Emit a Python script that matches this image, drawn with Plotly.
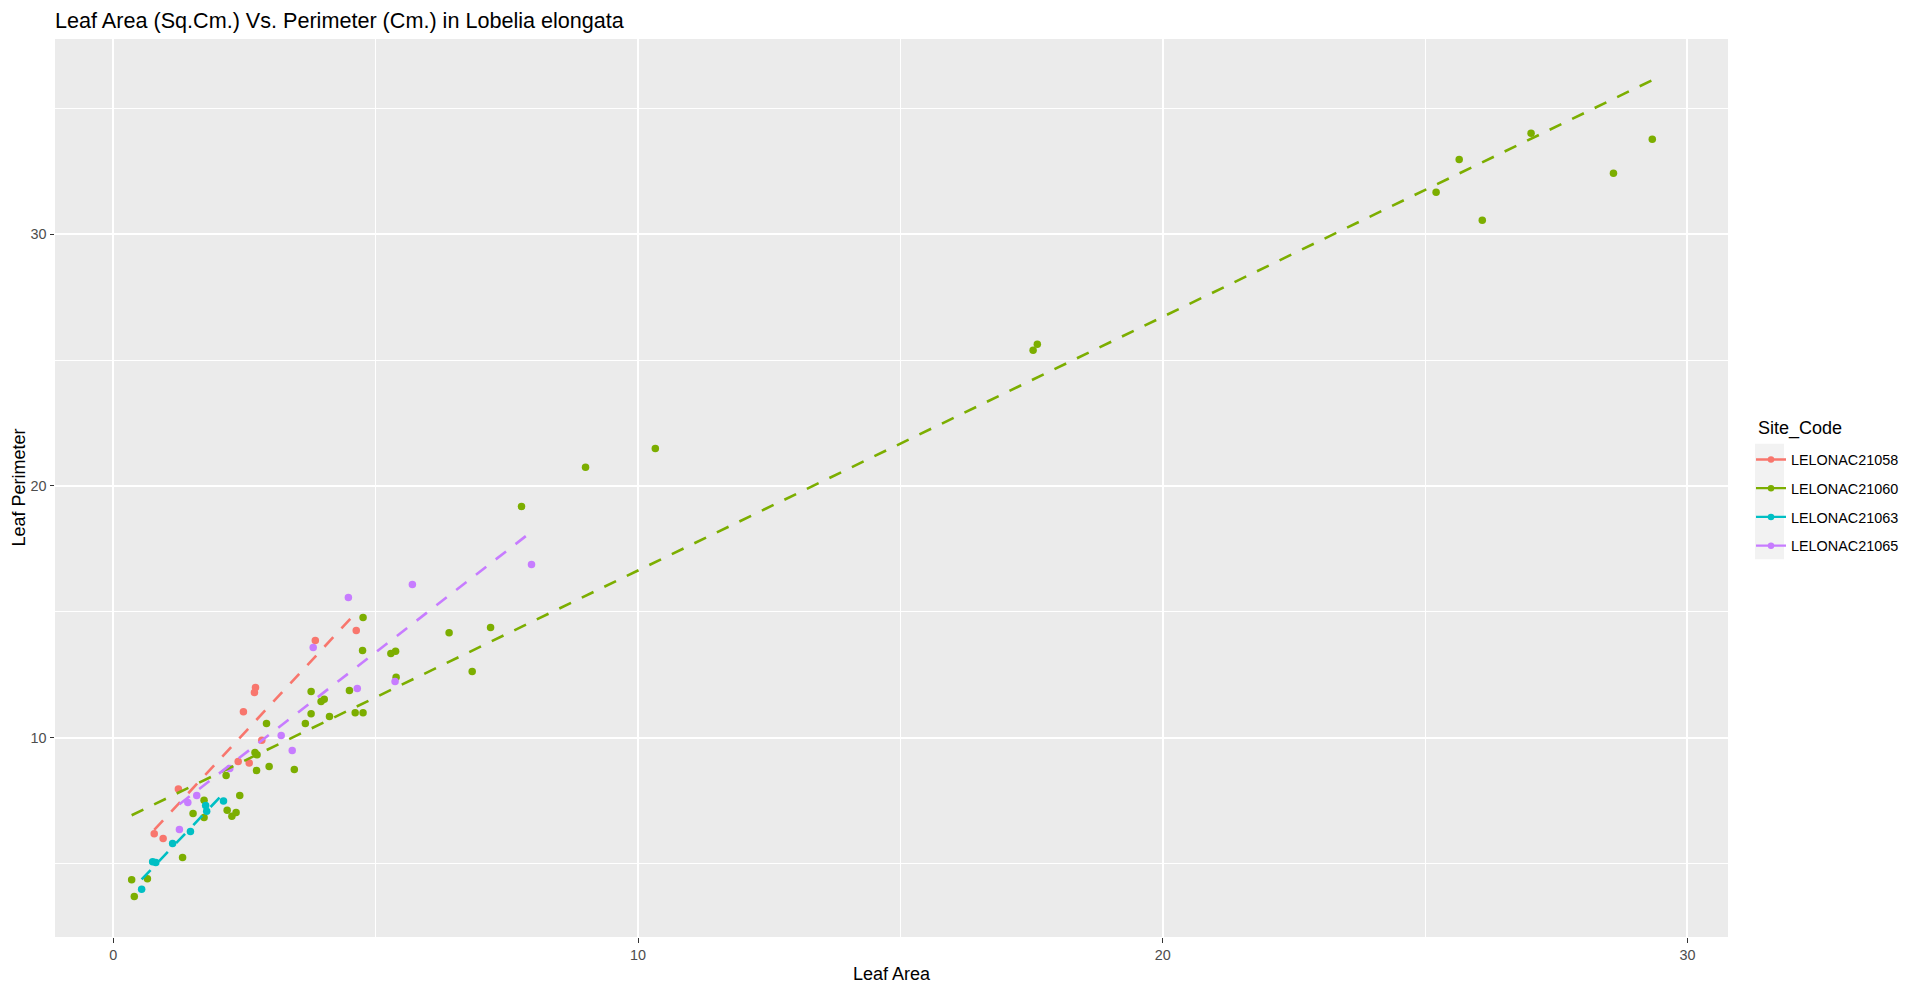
import plotly.graph_objects as go

# ---------------- data ----------------
site_codes = ["LELONAC21058", "LELONAC21060", "LELONAC21063", "LELONAC21065"]
colors = ["#F8766D", "#7CAE00", "#00BFC4", "#C77CFF"]

area_21058 = [0.78, 0.95, 1.24, 2.38, 2.59, 2.83, 2.48, 2.71, 2.69, 3.85, 4.63]
perim_21058 = [6.18, 5.99, 7.95, 9.05, 8.99, 9.89, 11.03, 11.99, 11.79, 13.86, 14.25]

area_21060 = [0.35, 0.40, 0.65, 1.32, 1.52, 1.73, 1.73, 2.17, 2.26, 2.34, 2.41, 2.15,
              2.70, 2.74, 2.73, 2.97, 2.92, 3.45, 3.66, 3.77, 3.77, 3.96, 4.02, 4.12,
              4.50, 4.61, 4.76, 4.75, 4.76, 5.29, 5.38, 5.39, 6.40, 6.84, 7.19, 7.78,
              9.00, 10.33, 17.53, 17.61, 25.21, 25.65, 26.09, 27.02, 28.59, 29.33]
perim_21060 = [4.35, 3.68, 4.39, 5.23, 6.98, 6.82, 7.51, 7.11, 6.87, 7.02, 7.70, 8.49,
               9.41, 9.32, 8.69, 8.85, 10.56, 8.73, 10.56, 10.95, 11.83, 11.43, 11.52, 10.84,
               11.87, 10.99, 10.99, 13.46, 14.77, 13.34, 13.43, 12.40, 14.17, 12.62, 14.37, 19.18,
               20.74, 21.49, 25.39, 25.63, 31.67, 32.98, 30.56, 34.02, 32.43, 33.78]

area_21063 = [0.54, 0.75, 0.81, 1.13, 1.47, 1.76, 1.78, 2.10]
perim_21063 = [3.97, 5.06, 5.03, 5.79, 6.27, 7.30, 7.07, 7.48]

area_21065 = [1.26, 1.42, 1.59, 2.22, 3.20, 3.41, 3.81, 4.48, 4.65, 5.37, 5.70, 7.97]
perim_21065 = [6.34, 7.42, 7.70, 8.77, 10.08, 9.48, 13.58, 15.57, 11.95, 12.23, 16.08, 16.88]

# linear-fit (dashed) lines: end points
fit_area_21058 = [0.78, 4.63]
fit_perim_21058 = [6.33, 14.97]
fit_area_21060 = [0.35, 29.33]
fit_perim_21060 = [6.91, 36.13]
fit_area_21063 = [0.54, 2.10]
fit_perim_21063 = [4.36, 7.78]
fit_area_21065 = [1.26, 7.97]
fit_perim_21065 = [7.35, 18.18]

x_ticks = [0, 10, 20, 30]
y_ticks = [10, 20, 30]

title_text = "Leaf Area (Sq.Cm.) Vs. Perimeter (Cm.) in Lobelia elongata"
x_title = "Leaf Area"
y_title = "Leaf Perimeter"
legend_title = "Site_Code"

points = [(area_21058, perim_21058), (area_21060, perim_21060),
          (area_21063, perim_21063), (area_21065, perim_21065)]
fits = [(fit_area_21058, fit_perim_21058), (fit_area_21060, fit_perim_21060),
        (fit_area_21063, fit_perim_21063), (fit_area_21065, fit_perim_21065)]

FONT = "Liberation Sans, Arial, sans-serif"
W, H = 1920, 992
L, R, T, B = 55, 192, 39, 55.3
PW = W - L - R
PH = H - T - B

fig = go.Figure()

# points layer
for (xs, ys), col, name in zip(points, colors, site_codes):
    fig.add_trace(go.Scatter(x=xs, y=ys, mode="markers", name=name,
                             marker=dict(color=col, size=7.5, line=dict(width=0)),
                             showlegend=False, legendgroup=name, hoverinfo="x+y"))

# smooth (lm) layer
for (xs, ys), col, name in zip(fits, colors, site_codes):
    fig.add_trace(go.Scatter(x=xs, y=ys, mode="lines", name=name,
                             line=dict(color=col, width=2.6, dash="13px,12px"),
                             showlegend=False, legendgroup=name, hoverinfo="skip"))

# legend keys (line + point)
for col, name in zip(colors, site_codes):
    fig.add_trace(go.Scatter(x=[None], y=[None], mode="lines+markers", name=name,
                             line=dict(color=col, width=2.3),
                             marker=dict(color=col, size=6.5),
                             showlegend=True, legendgroup=name))

def px_x(p):
    return (p - L) / PW

def px_y(p):
    return (H - B - p) / PH

fig.update_layout(
    width=W, height=H,
    margin=dict(l=L, r=R, t=T, b=B, pad=0),
    paper_bgcolor="white",
    plot_bgcolor="#EBEBEB",
    font=dict(family=FONT, color="black"),
    title=dict(text=title_text, font=dict(size=21.6, color="black", family=FONT),
               xref="paper", x=0, xanchor="left",
               yref="container", y=1 - 20.5 / H, yanchor="middle"),
    xaxis=dict(range=[-1.111, 30.773], tickvals=x_ticks, ticktext=[str(v) for v in x_ticks],
               showgrid=True, gridcolor="white", gridwidth=1.6,
               minor=dict(tickvals=[5, 15, 25], showgrid=True, gridcolor="white", gridwidth=0.9,
                          ticks=""),
               zeroline=False, showline=False, ticks="outside", ticklen=4.5, tickwidth=1.1,
               tickcolor="#333333", tickfont=dict(size=14.4, color="#4D4D4D", family=FONT)),
    yaxis=dict(range=[2.072, 37.765], tickvals=y_ticks, ticktext=[str(v) for v in y_ticks],
               showgrid=True, gridcolor="white", gridwidth=1.6,
               minor=dict(tickvals=[5, 15, 25, 35], showgrid=True, gridcolor="white", gridwidth=0.9,
                          ticks=""),
               zeroline=False, showline=False, ticks="outside", ticklen=4.5, tickwidth=1.1,
               tickcolor="#333333", tickfont=dict(size=14.4, color="#4D4D4D", family=FONT)),
    legend=dict(font=dict(size=14.4, color="black", family=FONT),
                x=px_x(1751), xanchor="left", y=px_y(443.5), yanchor="top",
                bgcolor="rgba(0,0,0,0)", borderwidth=0, tracegroupgap=7.0),
    shapes=[dict(type="rect", xref="paper", yref="paper", layer="below",
                 x0=px_x(1755), x1=px_x(1784), y0=px_y(559), y1=px_y(443.5),
                 fillcolor="#F2F2F2", line=dict(width=0))],
    annotations=[
        dict(text=legend_title, xref="paper", yref="paper", x=px_x(1755.5), y=px_y(428),
             xanchor="left", yanchor="middle", showarrow=False,
             font=dict(size=18, color="black", family=FONT)),
        dict(text=x_title, xref="paper", yref="paper", x=0.5, y=px_y(973.5),
             xanchor="center", yanchor="middle", showarrow=False,
             font=dict(size=18, color="black", family=FONT)),
        dict(text=y_title, xref="paper", yref="paper", x=px_x(18.5), y=0.5,
             xanchor="center", yanchor="middle", showarrow=False, textangle=-90,
             font=dict(size=18, color="black", family=FONT)),
    ],
)

fig.write_html("out.html", config={"displayModeBar": False},
               post_script="document.body.style.margin='0';")
